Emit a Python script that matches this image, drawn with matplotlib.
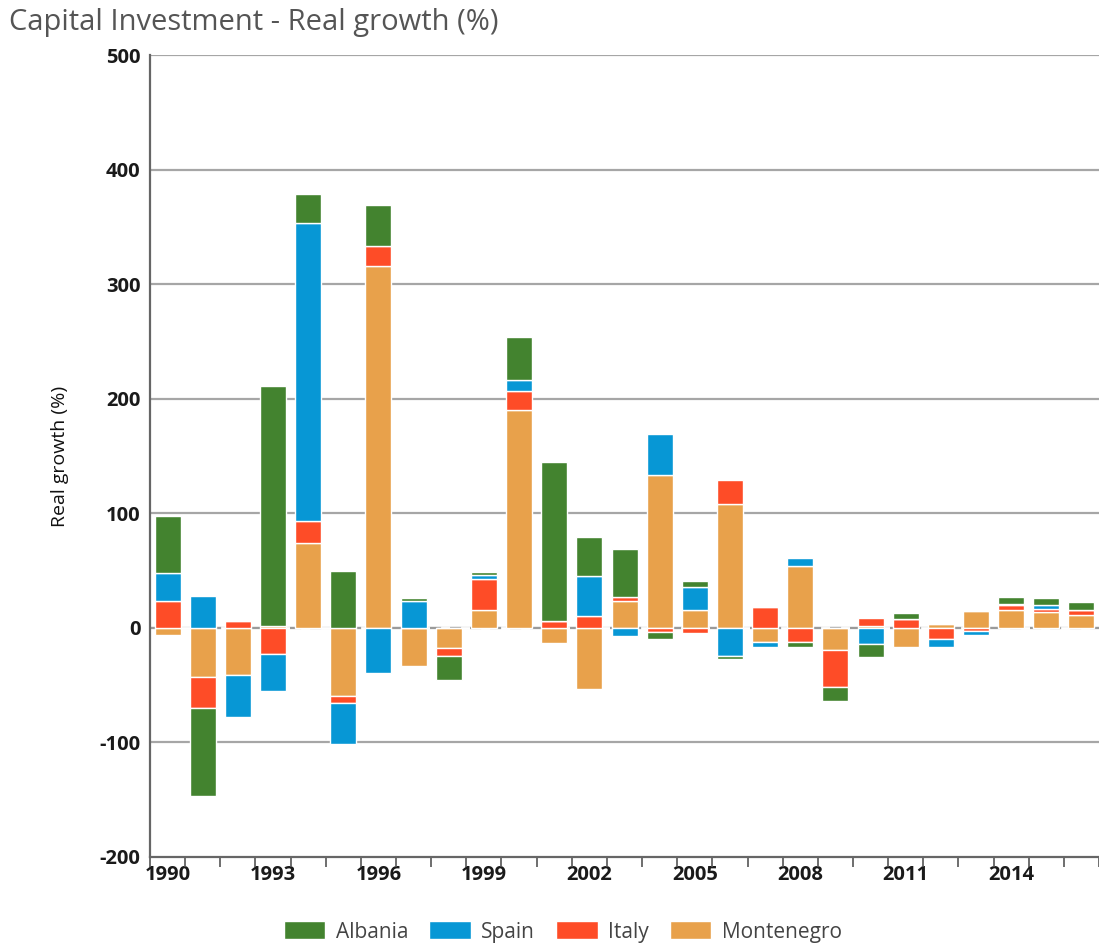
import numpy as np
import matplotlib
matplotlib.use("Agg")
import matplotlib.pyplot as plt

years = list(range(1990, 2017))
montenegro = [-6, -42.5, -41.6, 2, 74, -59.4, 316, -33, -18, 15.7, 190, -13.4, -53, 23, 133, 16, 108, -12, 53.6, -19.5, 1.5, -16.6, 3.5, 15, 15.7, 13.4, 10.8]
italy      = [23.6, -27.5, 6.4, -22.7, 19, -6.4, 17, 0, -6.5, 27, 17, 5.8, 10, 3.5, -4, -4.5, 21, 18.6, -12.3, -32.3, 7.5, 7.6, -9.6, -3, 4.3, 3.2, 5]
spain      = [24.4, 27.4, -35.8, -32, 260.6, -36, -39.6, 23, 0, 3.5, 9, 0, 35, -7.5, 36, 20, -24.5, -5, 7.4, 0, -13.7, 0, -7.3, -3.5, 0.5, 3.4, 0]
albania    = [49.5, -77, 0, 209, 25.4, 50, 36, 3, -21, 2.6, 38, 138.6, 34, 42, -6, 4.5, -3, 0, -4.3, -11.7, -11.6, 5, 0, 0, 6, 6, 6.7]
series_names = ["Albania", "Spain", "Italy", "Montenegro"]
colors = {"Albania": "#43832F", "Spain": "#0797D5", "Italy": "#FE4C27", "Montenegro": "#E8A14B"}
tick_years = [1990, 1993, 1996, 1999, 2002, 2005, 2008, 2011, 2014]

plt.rcParams['font.family'] = ['Open Sans', 'DejaVu Sans']
plt.rcParams['axes.unicode_minus'] = False
fig = plt.figure(figsize=(10.99, 9.44), dpi=100)
ax = fig.add_axes([0.1365, 0.0922, 0.8635, 0.8495])

x = np.arange(len(years))
stack_order = [("Montenegro", montenegro), ("Italy", italy), ("Spain", spain), ("Albania", albania)]
pos_base = np.zeros(len(years))
neg_base = np.zeros(len(years))
handles = {}
for name, vals in stack_order:
    v = np.array(vals, dtype=float)
    bottoms = np.where(v >= 0, pos_base, neg_base)
    b = ax.bar(x, v, bottom=bottoms, width=0.74, color=colors[name],
               edgecolor="white", linewidth=1.0, zorder=3)
    handles[name] = b
    pos_base = pos_base + np.where(v >= 0, v, 0)
    neg_base = neg_base + np.where(v < 0, v, 0)

ax.set_xlim(-0.5, len(years) - 0.5)
ax.set_ylim(-200, 500)
ax.set_yticks(range(-200, 501, 100))
for yv in range(-100, 501, 100):
    ax.axhline(yv, color="#A6A6A6", linewidth=1.6, zorder=1)
ax.axhline(0, color="white", linewidth=2, zorder=1.5)
ax.axhline(0, color="#9A9A9A", linewidth=1.6, linestyle=(0, (5, 4)), zorder=2)

ax.set_xticks([years.index(t) for t in tick_years])
ax.set_xticklabels([str(t) for t in tick_years])
ax.set_xticks(np.arange(-0.5, len(years), 1.0), minor=True)
ax.tick_params(axis="x", which="major", length=0, pad=6)
ax.tick_params(axis="x", which="minor", length=7, width=1.2, color="#555555", direction="out")
ax.tick_params(axis="y", length=0, pad=7)
for lab in ax.get_xticklabels() + ax.get_yticklabels():
    lab.set_fontweight("bold")
    lab.set_fontsize(14.5)
    lab.set_color("#1a1a1a")

for s in ["top", "right"]:
    ax.spines[s].set_visible(False)
for s in ["left", "bottom"]:
    ax.spines[s].set_color("#666666")
    ax.spines[s].set_linewidth(1.6)

ax.set_ylabel("Real growth (%)", fontsize=14, color="#111111", labelpad=22)
fig.text(0.008, 0.976, "Capital Investment - Real growth (%)", fontsize=21,
         color="#555555", ha="left", va="center")

leg = fig.legend([handles[n] for n in series_names], series_names, loc="center",
                 bbox_to_anchor=(0.512, 0.0127), ncol=4, frameon=False, fontsize=15,
                 handlelength=2.0, handleheight=0.95, handletextpad=0.5, columnspacing=1.0,
                 borderaxespad=0, borderpad=0)
for t in leg.get_texts():
    t.set_color("#444444")

fig.savefig("out.png", dpi=100)
